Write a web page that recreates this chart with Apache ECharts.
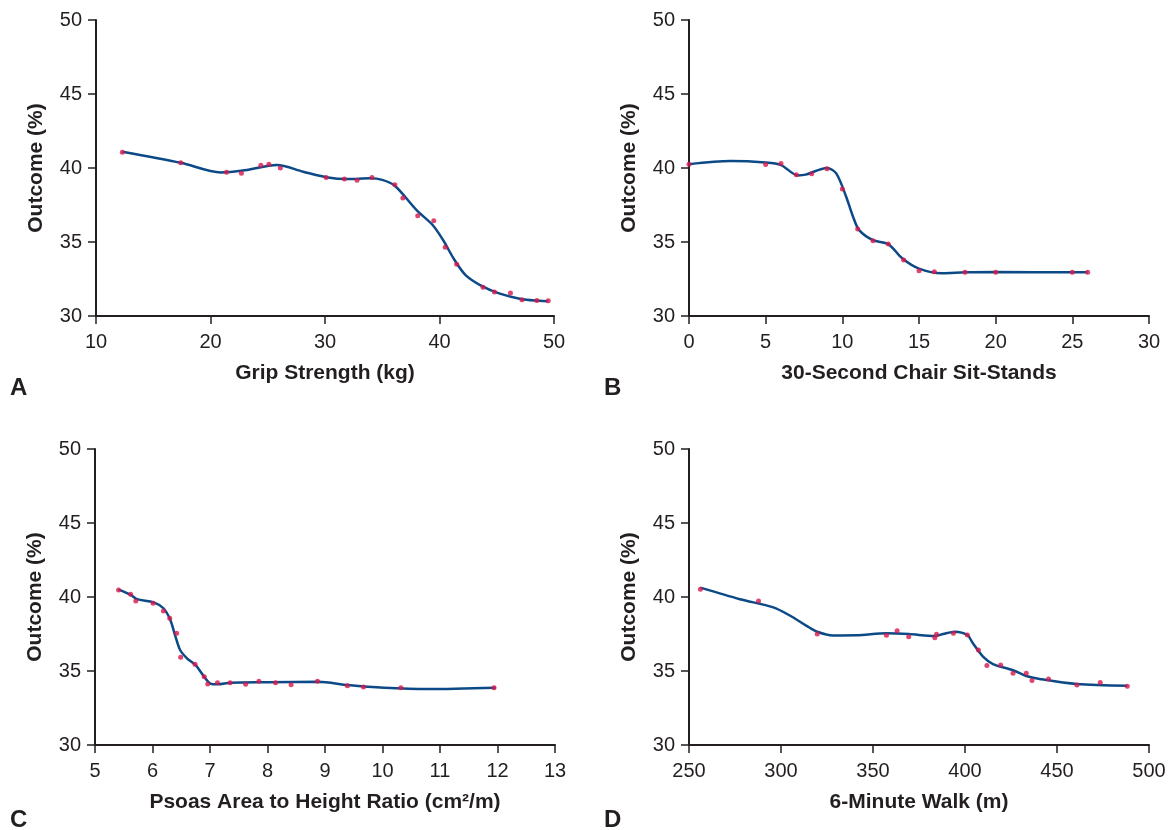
<!DOCTYPE html>
<html>
<head>
<meta charset="utf-8">
<title>Outcome by physical performance measure</title>
<script src="https://cdn.jsdelivr.net/npm/echarts@6/dist/echarts.min.js"></script>
<style>
  html, body { margin: 0; padding: 0; background: #ffffff; }
  #chart { width: 1171px; height: 830px; }
</style>
</head>
<body>
<div id="chart"></div>
<script>
// ---- Panel A: grip strength ----
const gripX = [12.3, 17.4, 21.4, 22.7, 24.4, 25.1, 26.1, 30.1, 31.7, 32.8, 34.1, 36.1, 36.8, 38.1, 39.5, 40.5, 41.5, 43.8, 44.8, 46.2, 47.2, 48.5, 49.5];
const gripY = [41.06, 40.36, 39.71, 39.64, 40.18, 40.25, 40.0, 39.35, 39.26, 39.18, 39.36, 38.87, 37.97, 36.78, 36.44, 34.64, 33.49, 31.94, 31.62, 31.55, 31.1, 31.04, 31.03];
const gripFitX = [12.3, 17.4, 20.9, 23.0, 25.8, 28.1, 30.1, 32.0, 33.9, 35.0, 36.1, 38.0, 39.4, 40.3, 41.3, 42.3, 43.8, 45.2, 47.1, 48.7, 49.5];
const gripFitY = [41.1, 40.35, 39.7, 39.85, 40.2, 39.75, 39.38, 39.25, 39.3, 39.2, 38.8, 37.15, 36.15, 35.15, 33.8, 32.75, 31.98, 31.53, 31.15, 31.03, 31.0];

// ---- Panel B: 30-second chair sit-stands ----
const chairX = [0, 5, 6, 7, 8, 9, 10, 11, 12, 13, 14, 15, 16, 18, 20, 25, 26];
const chairY = [40.26, 40.23, 40.3, 39.55, 39.61, 39.95, 38.58, 35.88, 35.09, 34.86, 33.78, 33.06, 32.99, 32.95, 32.95, 32.95, 32.95];
const chairFitX = [0, 2.7, 5, 6, 7.1, 7.6, 9, 9.6, 10.25, 10.7, 11.1, 12, 13, 13.9, 15, 16.5, 18, 20, 26];
const chairFitY = [40.26, 40.47, 40.37, 40.2, 39.5, 39.55, 40.0, 39.64, 38.06, 36.7, 35.8, 35.12, 34.86, 33.9, 33.2, 32.89, 32.95, 32.97, 32.95];

// ---- Panel C: psoas area to height ratio ----
const psoasX = [5.41, 5.62, 5.71, 6.01, 6.19, 6.3, 6.42, 6.49, 6.74, 6.9, 6.96, 7.13, 7.35, 7.62, 7.85, 8.14, 8.41, 8.87, 9.39, 9.67, 10.32, 11.94];
const psoasY = [40.47, 40.18, 39.73, 39.57, 39.05, 38.56, 37.55, 35.93, 35.45, 34.61, 34.12, 34.21, 34.21, 34.1, 34.3, 34.21, 34.07, 34.3, 34.0, 33.92, 33.87, 33.87];
const psoasFitX = [5.41, 5.62, 5.73, 6.02, 6.19, 6.31, 6.4, 6.48, 6.6, 6.75, 6.9, 7.0, 7.13, 7.36, 8.0, 8.88, 9.4, 10.03, 10.79, 11.97];
const psoasFitY = [40.5, 40.15, 39.86, 39.64, 39.24, 38.45, 37.32, 36.42, 35.86, 35.4, 34.6, 34.17, 34.1, 34.21, 34.24, 34.27, 34.05, 33.87, 33.78, 33.87];

// ---- Panel D: 6-minute walk ----
const walkX = [256.2, 287.8, 319.7, 357.3, 363.1, 369.4, 383.6, 384.5, 393.7, 401.3, 407.3, 411.9, 419.4, 426.1, 433.3, 436.4, 445.4, 460.8, 473.5, 488.2];
const walkY = [40.52, 39.73, 37.5, 37.41, 37.72, 37.32, 37.25, 37.48, 37.55, 37.43, 36.42, 35.38, 35.4, 34.84, 34.84, 34.35, 34.46, 34.05, 34.23, 33.97];
const walkFitX = [256.2, 277.7, 295.8, 304.8, 313.9, 319.7, 328.3, 341.0, 357.3, 369.4, 383.6, 388.1, 394.4, 401.3, 404.3, 409.8, 415.2, 426.1, 433.3, 440.6, 460.8, 488.2];
const walkFitY = [40.63, 39.85, 39.3, 38.75, 38.05, 37.65, 37.4, 37.41, 37.55, 37.5, 37.36, 37.5, 37.66, 37.43, 36.87, 35.97, 35.47, 35.05, 34.66, 34.46, 34.12, 34.0];

// ---- Axis settings ----
const yTicks = { min: 30, max: 50, interval: 5 };
const panels = [
  { letter: 'A', name: 'Grip Strength (kg)', xMin: 10, xMax: 50, xStep: 10,
    px: gripX, py: gripY, fx: gripFitX, fy: gripFitY },
  { letter: 'B', name: '30-Second Chair Sit-Stands', xMin: 0, xMax: 30, xStep: 5,
    px: chairX, py: chairY, fx: chairFitX, fy: chairFitY },
  { letter: 'C', name: 'Psoas Area to Height Ratio (cm\u00B2/m)', xMin: 5, xMax: 13, xStep: 1,
    px: psoasX, py: psoasY, fx: psoasFitX, fy: psoasFitY },
  { letter: 'D', name: '6-Minute Walk (m)', xMin: 250, xMax: 500, xStep: 50,
    px: walkX, py: walkY, fx: walkFitX, fy: walkFitY }
];

// grid boxes in pixels
const boxes = [
  { left: 96, top: 20, width: 458, height: 296 },
  { left: 689, top: 20, width: 460, height: 296 },
  { left: 95, top: 449, width: 460, height: 296 },
  { left: 689, top: 449, width: 460, height: 296 }
];
const letterPos = [
  { left: 10, top: 376 },
  { left: 604, top: 376 },
  { left: 10, top: 808 },
  { left: 604, top: 808 }
];

const FONT = '"Liberation Sans", Arial, Helvetica, sans-serif';
const INK = '#231f20';
const LINE = '#0c4a87';
const DOT = '#d7184b';

const zip = (xs, ys) => xs.map((x, i) => [x, ys[i]]);

const grid = [], xAxis = [], yAxis = [], series = [], title = [];
panels.forEach((p, i) => {
  grid.push(Object.assign({ containLabel: false }, boxes[i]));
  xAxis.push({
    type: 'value', gridIndex: i, min: p.xMin, max: p.xMax, interval: p.xStep,
    name: p.name, nameLocation: 'middle', nameGap: 47,
    nameTextStyle: { fontFamily: FONT, fontWeight: 'bold', fontSize: 21, color: INK },
    axisLine: { show: true, onZero: false, lineStyle: { color: INK, width: 2 } },
    axisTick: { show: true, inside: false, length: 8, lineStyle: { color: INK, width: 1.5 } },
    axisLabel: { fontFamily: FONT, fontSize: 20, color: INK, margin: 16 },
    splitLine: { show: false }
  });
  yAxis.push({
    type: 'value', gridIndex: i, min: yTicks.min, max: yTicks.max, interval: yTicks.interval,
    name: 'Outcome (%)', nameLocation: 'middle', nameGap: 49,
    nameTextStyle: { fontFamily: FONT, fontWeight: 'bold', fontSize: 21, color: INK },
    axisLine: { show: true, onZero: false, lineStyle: { color: INK, width: 2 } },
    axisTick: { show: true, inside: false, length: 8, lineStyle: { color: INK, width: 1.5 } },
    axisLabel: { fontFamily: FONT, fontSize: 20, color: INK, margin: 14 },
    splitLine: { show: false }
  });
  series.push({
    type: 'line', xAxisIndex: i, yAxisIndex: i,
    data: zip(p.fx, p.fy), smooth: 0.3,
    showSymbol: false, symbol: 'none',
    lineStyle: { color: LINE, width: 2.5 }, z: 2, silent: true, animation: false
  });
  series.push({
    type: 'scatter', xAxisIndex: i, yAxisIndex: i,
    data: zip(p.px, p.py), symbol: 'circle', symbolSize: 5,
    itemStyle: { color: DOT }, z: 3, silent: true, animation: false
  });
  title.push({
    text: p.letter, left: letterPos[i].left, top: letterPos[i].top,
    textStyle: { fontFamily: FONT, fontWeight: 'bold', fontSize: 24, color: INK }, padding: 0
  });
});

const chart = echarts.init(document.getElementById('chart'), null, { renderer: 'canvas' });
chart.setOption({
  backgroundColor: '#ffffff',
  animation: false,
  title, grid, xAxis, yAxis, series
});
</script>
</body>
</html>
